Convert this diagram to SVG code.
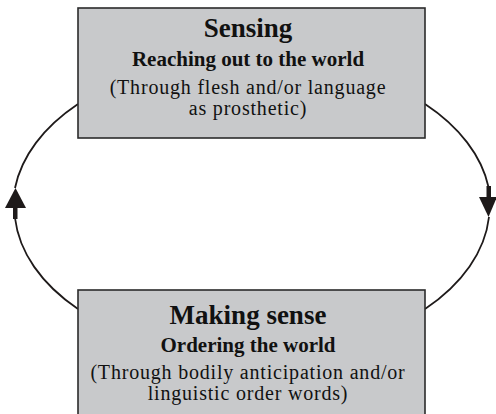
<svg xmlns="http://www.w3.org/2000/svg" width="496" height="414" viewBox="0 0 496 414">
<style>
.box{fill:#c8c9cb;stroke:#2b2b2b;stroke-width:1.6}
.t{font-family:"Liberation Serif","Times New Roman",serif;fill:#111;text-anchor:middle}
.h{font-size:27px;font-weight:bold}
.s{font-size:21px;font-weight:bold}
.d{font-size:20px;letter-spacing:0.8px}
.c{fill:none;stroke:#1e1a1a;stroke-width:1.8}
.a{fill:#1e1a1a}
</style>
<rect width="496" height="414" fill="#fff"/>
<g id="connectors">
<path class="c" d="M78,104 A238,150 0 0 0 15,188"/>
<path class="c" d="M78,309 A238,150 0 0 1 15,218"/>
<rect class="a" x="13" y="206" width="4.5" height="13"/>
<polygon class="a" points="5,208 26,208 15.5,188"/>
<path class="c" d="M425,104 A238,150 0 0 1 488.5,187"/>
<path class="c" d="M425,309 A238,150 0 0 0 489,217"/>
<rect class="a" x="486.5" y="186" width="4.5" height="13"/>
<polygon class="a" points="479,197 497,197 488.5,217"/>
</g>
<g id="sensing">
<rect class="box" x="78" y="8" width="347" height="130"/>
<text class="t h" x="248" y="37">Sensing</text>
<text class="t s" x="248" y="66">Reaching out to the world</text>
<text class="t d" x="248" y="94">(Through flesh and/or language</text>
<text class="t d" x="248" y="115">as prosthetic)</text>
</g>
<g id="making-sense">
<rect class="box" x="78" y="290" width="347" height="130"/>
<text class="t h" x="248" y="324">Making sense</text>
<text class="t s" x="248" y="352">Ordering the world</text>
<text class="t d" x="248" y="379">(Through bodily anticipation and/or</text>
<text class="t d" x="248" y="400">linguistic order words)</text>
</g>
</svg>
